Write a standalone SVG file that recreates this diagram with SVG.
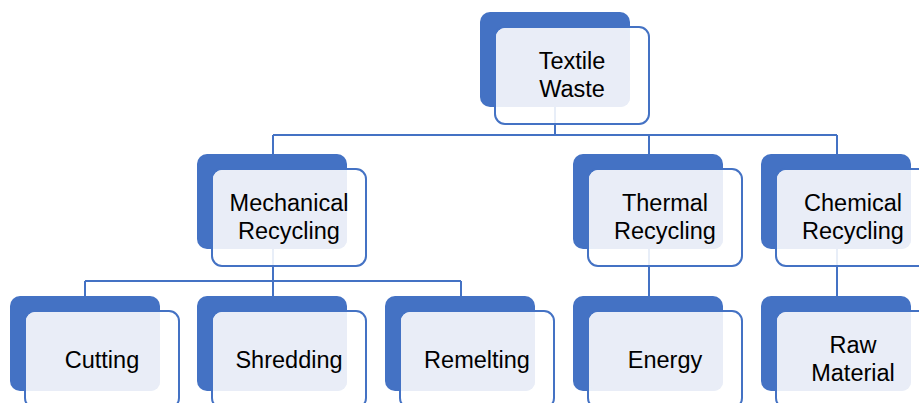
<svg xmlns="http://www.w3.org/2000/svg" width="919" height="403" viewBox="0 0 919 403">
<style>
.back{fill:#4472C4;}
.front{fill:#FFFFFF;fill-opacity:0.88;stroke:#4472C4;stroke-width:2;}
.fill{fill:#E9EDF7;}
.lbl{font-family:"Liberation Sans",Arial,sans-serif;font-size:23.5px;fill:#000;text-anchor:middle;}
.conn{fill:none;stroke:#4472C4;stroke-width:2;}
</style>
<rect width="919" height="403" fill="#FFFFFF"/>
<g id="connectors">
<path class="conn" d="M555,107 V135 M273,135 H837 M273,135 V154 M649,135 V154 M837,135 V154"/>
<path class="conn" d="M273,249 V281 M85,281 H461 M85,281 V296 M273,281 V296 M461,281 V296"/>
<path class="conn" d="M649,249 V296 M837,249 V296"/>
</g>
<g id="textile-waste" transform="translate(480,12)">
<rect class="back" width="150" height="95" rx="10"/>
<rect class="front" x="15" y="15" width="154" height="97" rx="10"/>
<rect class="fill" x="16" y="16" width="134" height="79" rx="9"/>
<text class="lbl" x="92" y="57">Textile</text>
<text class="lbl" x="92" y="85">Waste</text>
</g>
<g id="mechanical-recycling" transform="translate(197,154)">
<rect class="back" width="150" height="95" rx="10"/>
<rect class="front" x="15" y="15" width="154" height="97" rx="10"/>
<rect class="fill" x="16" y="16" width="134" height="79" rx="9"/>
<text class="lbl" x="92" y="57">Mechanical</text>
<text class="lbl" x="92" y="85">Recycling</text>
</g>
<g id="thermal-recycling" transform="translate(573,154)">
<rect class="back" width="150" height="95" rx="10"/>
<rect class="front" x="15" y="15" width="154" height="97" rx="10"/>
<rect class="fill" x="16" y="16" width="134" height="79" rx="9"/>
<text class="lbl" x="92" y="57">Thermal</text>
<text class="lbl" x="92" y="85">Recycling</text>
</g>
<g id="chemical-recycling" transform="translate(761,154)">
<rect class="back" width="150" height="95" rx="10"/>
<rect class="front" x="15" y="15" width="154" height="97" rx="10"/>
<rect class="fill" x="16" y="16" width="134" height="79" rx="9"/>
<text class="lbl" x="92" y="57">Chemical</text>
<text class="lbl" x="92" y="85">Recycling</text>
</g>
<g id="cutting" transform="translate(10,296)">
<rect class="back" width="150" height="95" rx="10"/>
<rect class="front" x="15" y="15" width="154" height="97" rx="10"/>
<rect class="fill" x="16" y="16" width="134" height="79" rx="9"/>
<text class="lbl" x="92" y="72">Cutting</text>
</g>
<g id="shredding" transform="translate(197,296)">
<rect class="back" width="150" height="95" rx="10"/>
<rect class="front" x="15" y="15" width="154" height="97" rx="10"/>
<rect class="fill" x="16" y="16" width="134" height="79" rx="9"/>
<text class="lbl" x="92" y="72">Shredding</text>
</g>
<g id="remelting" transform="translate(385,296)">
<rect class="back" width="150" height="95" rx="10"/>
<rect class="front" x="15" y="15" width="154" height="97" rx="10"/>
<rect class="fill" x="16" y="16" width="134" height="79" rx="9"/>
<text class="lbl" x="92" y="72">Remelting</text>
</g>
<g id="energy" transform="translate(573,296)">
<rect class="back" width="150" height="95" rx="10"/>
<rect class="front" x="15" y="15" width="154" height="97" rx="10"/>
<rect class="fill" x="16" y="16" width="134" height="79" rx="9"/>
<text class="lbl" x="92" y="72">Energy</text>
</g>
<g id="raw-material" transform="translate(761,296)">
<rect class="back" width="150" height="95" rx="10"/>
<rect class="front" x="15" y="15" width="154" height="97" rx="10"/>
<rect class="fill" x="16" y="16" width="134" height="79" rx="9"/>
<text class="lbl" x="92" y="57">Raw</text>
<text class="lbl" x="92" y="85">Material</text>
</g>
</svg>
